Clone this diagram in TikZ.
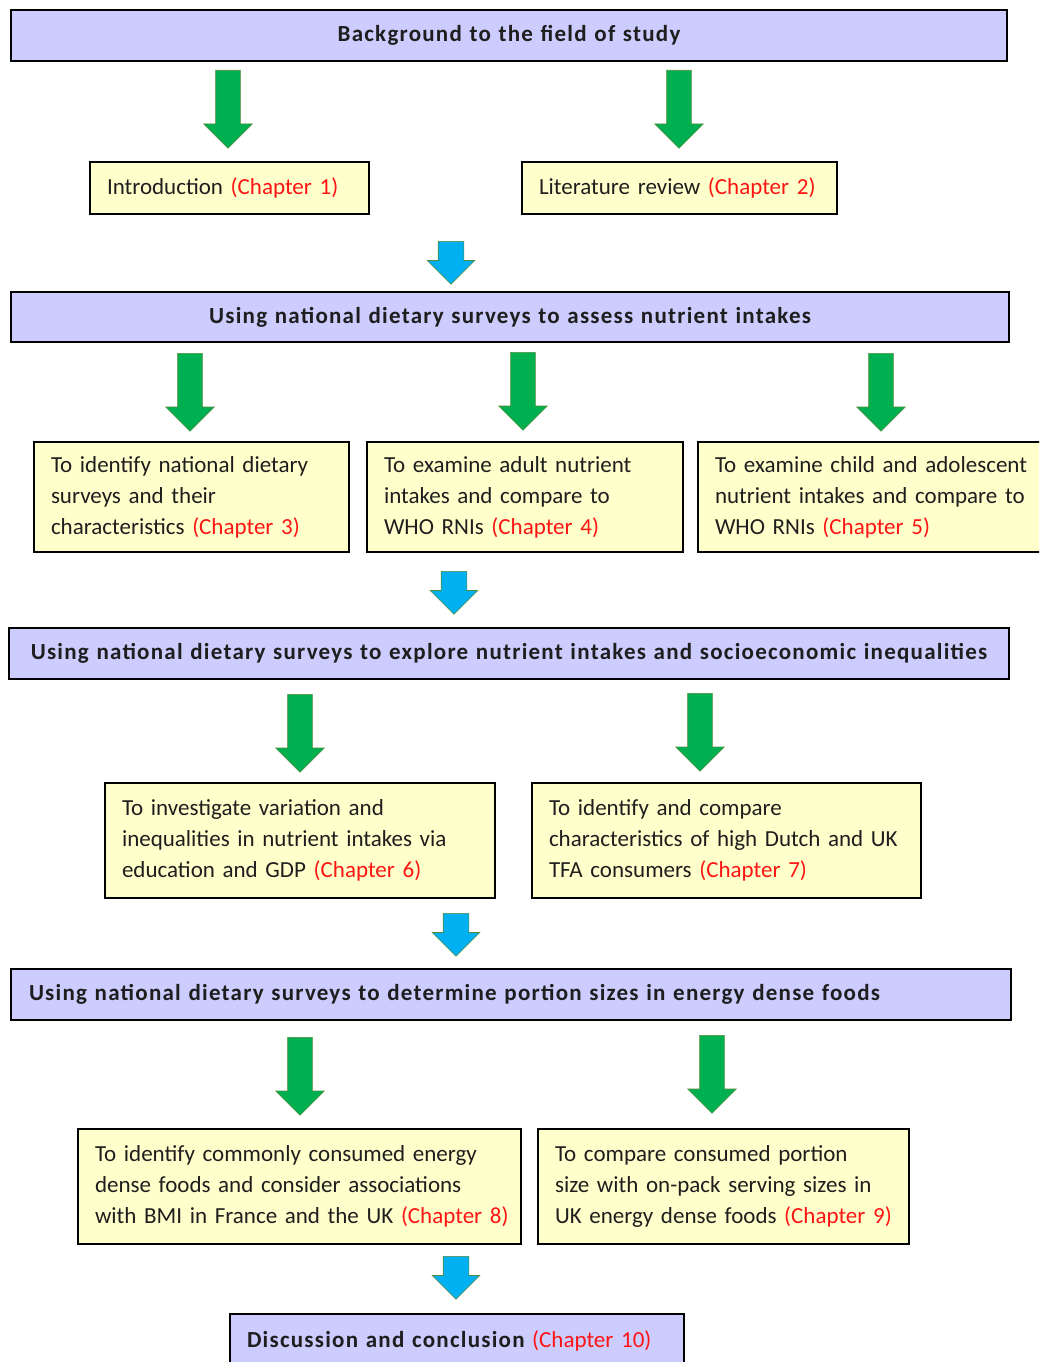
\documentclass[tikz,border=0pt]{standalone}
\usepackage{fontspec}
\setmainfont{Carlito}
\newfontfamily\headfont[LetterSpace=5.4]{Carlito Bold}
\usetikzlibrary{
  shapes.arrows,
}
\definecolor{headfill}{RGB}{204,204,255}
\definecolor{boxfill}{RGB}{255,255,204}
\definecolor{arrowgreen}{RGB}{0,176,80}
\definecolor{arrowblue}{RGB}{0,176,240}
\definecolor{arrowedge}{RGB}{80,140,60}
\definecolor{chapred}{RGB}{255,20,20}
\definecolor{textgrey}{RGB}{30,30,30}
\newcommand{\chap}[1]{\textcolor{chapred}{(Chapter~#1)}}
\tikzset{
  base box/.style = {
    draw,
    line width=2pt,
    anchor=north west,
    inner ysep=0pt,
    text=textgrey,
    font=\fontsize{23}{31}\selectfont
  },
  head box/.style 2 args = {
    base box,
    fill=headfill,
    inner xsep=17pt,
    text width=#1,
    minimum height=#2,
    font=\fontsize{23}{31}\selectfont\headfont
  },
  chapter box/.style 2 args = {
    base box,
    fill=boxfill,
    inner xsep=17pt,
    text width=#1,
    minimum height=#2,
    align=left
  },
  block arrow/.style = {
    shape=single arrow,
    draw=arrowedge,
    line width=0.6pt,
    anchor=tail,
    rotate=-90,
    inner xsep=0pt,
    single arrow head indent=0pt
  },
  green arrow/.style = {
    block arrow,
    fill=arrowgreen,
    inner ysep=12pt,
    minimum width=48pt,
    single arrow head extend=12pt,
    minimum height=78pt
  },
  blue arrow/.style = {
    block arrow,
    fill=arrowblue,
    inner ysep=12.5pt,
    minimum width=47pt,
    single arrow head extend=11pt,
    minimum height=43pt
  },
}

\begin{document}
\begin{tikzpicture}[x=1pt, y=-1pt]
  \useasboundingbox (0,0) rectangle (1039,1362);
  \clip (0,0) rectangle (1039,1362);
  %% background
  \node[head box={962pt}{51pt}, align=center] (bg) at (10,9)
      {Background to the field of study};
  \node[green arrow] (ga1) at (228,70) {};
  \node[green arrow] (ga2) at (679,70) {};
  \node[chapter box={245pt}{52pt}] (intro) at (89,161)
      {Introduction \chap{1}};
  \node[chapter box={281pt}{52pt}] (litrev) at (521,161)
      {Literature review \chap{2}};
  \node[blue arrow] (ba1) at (451,241) {};
  %% nutrient intakes
  \node[head box={964pt}{50pt}, align=center] (assess) at (10,291)
      {Using national dietary surveys to assess nutrient intakes};
  \node[green arrow] (ga3) at (190,353) {};
  \node[green arrow] (ga4) at (523,352) {};
  \node[green arrow] (ga5) at (881,353) {};
  \node[chapter box={281pt}{110pt}] (ch3) at (33,441)
      {To identify national dietary\\surveys and their\\characteristics \chap{3}};
  \node[chapter box={282pt}{110pt}] (ch4) at (366,441)
      {To examine adult nutrient\\intakes and compare to\\WHO RNIs \chap{4}};
  \node[chapter box={326pt}{110pt}] (ch5) at (697,441)
      {To examine child and adolescent\\nutrient intakes and compare to\\WHO RNIs \chap{5}};
  \node[blue arrow] (ba2) at (454,571) {};
  %% socioeconomic inequalities
  \node[head box={966pt}{51pt}, align=center] (socio) at (8,627)
      {Using national dietary surveys to explore nutrient intakes and socioeconomic inequalities};
  \node[green arrow] (ga6) at (300,694) {};
  \node[green arrow] (ga7) at (700,693) {};
  \node[chapter box={356pt}{115pt}] (ch6) at (104,782)
      {To investigate variation and\\inequalities in nutrient intakes via\\education and GDP \chap{6}};
  \node[chapter box={355pt}{115pt}] (ch7) at (531,782)
      {To identify and compare\\characteristics of high Dutch and UK\\TFA consumers \chap{7}};
  \node[blue arrow] (ba3) at (456,913) {};
  %% portion sizes
  \node[head box={964pt}{51pt}, inner xsep=18pt, align=left] (portion) at (10,968)
      {Using national dietary surveys to determine portion sizes in energy dense foods};
  \node[green arrow] (ga8) at (300,1037) {};
  \node[green arrow] (ga9) at (712,1035) {};
  \node[chapter box={409pt}{115pt}] (ch8) at (77,1128)
      {To identify commonly consumed energy\\dense foods and consider associations\\\mbox{with BMI in France and the UK \chap{8}}};
  \node[chapter box={337pt}{115pt}] (ch9) at (537,1128)
      {To compare consumed portion\\size with on-pack serving sizes in\\\mbox{UK energy dense foods \chap{9}}};
  \node[blue arrow] (ba4) at (456,1256) {};
  %% conclusion
  \node[head box={420pt}{54pt}, align=left] (discuss) at (229,1313)
      {Discussion and conclusion {\normalfont\fontsize{23}{31}\selectfont\chap{10}}};
\end{tikzpicture}
\end{document}
